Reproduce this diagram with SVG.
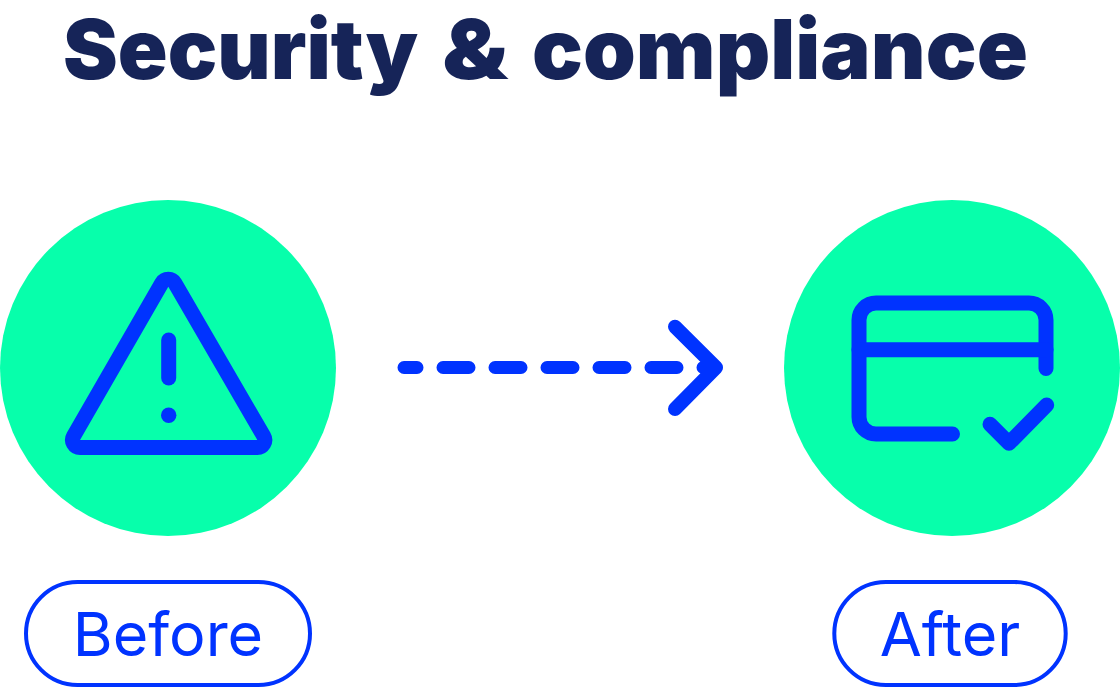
<svg xmlns="http://www.w3.org/2000/svg" width="1120" height="688" viewBox="0 0 1120 688">
<style>
.c{fill:#07ffab}
.i{fill:none;stroke:#0033ff;stroke-width:15;stroke-linecap:round;stroke-linejoin:round}
.a{fill:none;stroke:#0033ff;stroke-width:13;stroke-linecap:round;stroke-linejoin:round}
.h{stroke-width:14}
.p{fill:#fff;stroke:#0033ff;stroke-width:4}
.l{font-family:"Inter","Liberation Sans",sans-serif;font-size:61px;fill:#0033ff;text-anchor:middle}
.t{font-family:"Inter","Liberation Sans",sans-serif;font-size:83px;font-weight:900;fill:#162458}
</style>
<rect width="1120" height="688" fill="#fff"/>
<text class="t" y="79"><tspan x="63" textLength="355" lengthAdjust="spacingAndGlyphs">Security</tspan> <tspan x="442" textLength="66" lengthAdjust="spacingAndGlyphs">&amp;</tspan> <tspan x="532" textLength="496" lengthAdjust="spacingAndGlyphs">compliance</tspan></text>
<g id="before">
<circle class="c" cx="168" cy="368" r="168"/>
<path class="i" d="M161.800 283A7.500 7.500 0 0 1 174.800 283L263.800 436.300A7.500 7.500 0 0 1 257.300 447.500H80A7.500 7.500 0 0 1 73.500 436.300Z"/>
<path class="i" d="M168.700 340V378"/>
<circle cx="168.700" cy="415.300" r="7.700" fill="#0033ff"/>
</g>
<g id="after">
<circle class="c" cx="952" cy="368" r="168"/>
<path class="i" d="M1046 368.500V320A17 17 0 0 0 1029 303H876A17 17 0 0 0 859 320V417A17 17 0 0 0 876 434H952.500"/>
<path class="i" d="M859 349.700H1046"/>
<path class="i" d="M990 424.300L1009 443.300L1046.700 405"/>
</g>
<g id="connectors">
<path class="a" d="M404 367.500H716" stroke-dasharray="26 26" stroke-dashoffset="13"/>
<path class="i h" d="M675 326.700L716 367.500L675 409"/>
</g>
<g id="before-label">
<rect class="p" x="26" y="582" width="284" height="103" rx="51.500"/>
<text class="l" x="168" y="656">Before</text>
</g>
<g id="after-label">
<rect class="p" x="834.300" y="582" width="231.400" height="103" rx="51.500"/>
<text class="l" x="950" y="656">After</text>
</g>
</svg>
